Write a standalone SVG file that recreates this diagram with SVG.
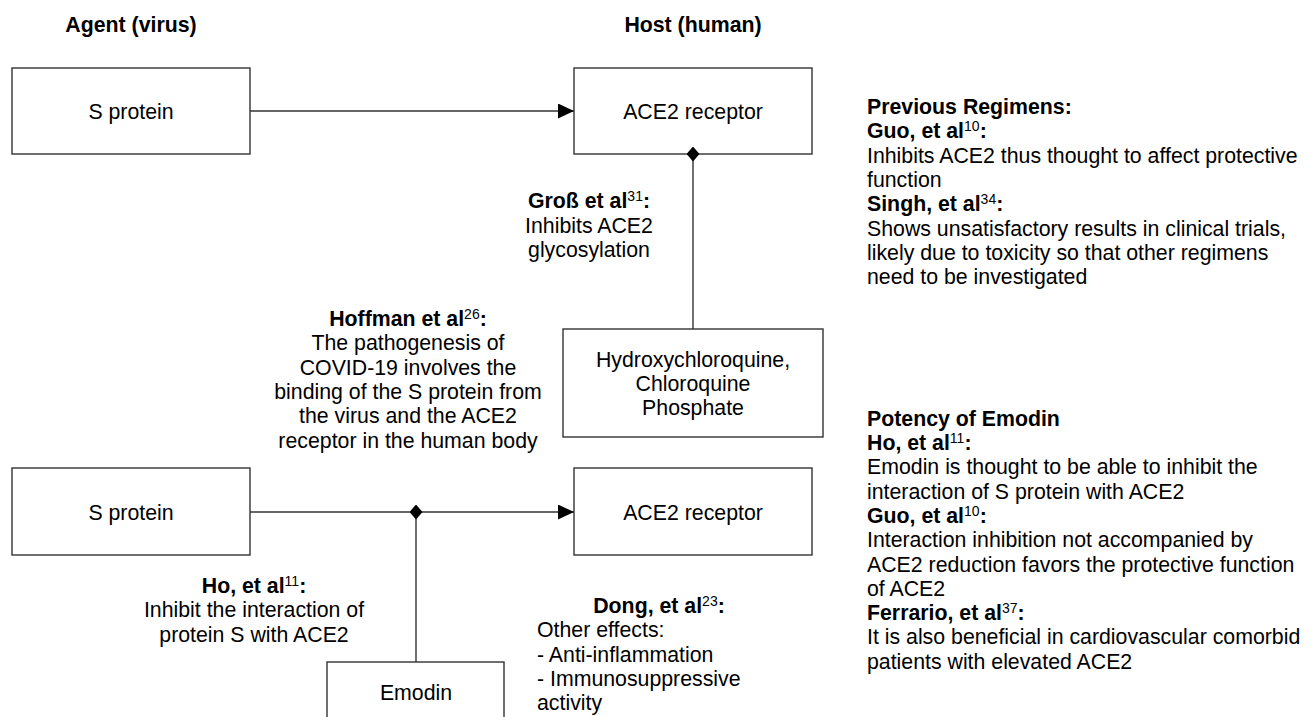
<svg xmlns="http://www.w3.org/2000/svg" width="1312" height="717" viewBox="0 0 1312 717">
<style>
text{font-family:"Liberation Sans",Arial,sans-serif;font-size:21.3px;fill:#000}
.b{font-weight:bold}
.c{text-anchor:middle}
.sup{font-size:14px;font-weight:normal}
.box{fill:#fff;stroke:#333;stroke-width:1.4}
.ln{fill:none;stroke:#333;stroke-width:1.4}
</style>
<defs>
<marker id="arrow" markerUnits="userSpaceOnUse" markerWidth="16" markerHeight="15" refX="16" refY="7.5" orient="auto">
<path d="M0,0 L16,7.5 L0,15 z" fill="#000"/>
</marker>
<marker id="diamond" markerUnits="userSpaceOnUse" markerWidth="15" markerHeight="13" refX="7.5" refY="6.5" orient="auto">
<path d="M0,6.5 L7.5,0 L15,6.5 L7.5,13 z" fill="#000"/>
</marker>
</defs>

<text class="b c" x="131" y="32">Agent (virus)</text>
<text class="b c" x="693" y="32">Host (human)</text>

<g id="s-protein-1">
<rect class="box" x="12" y="68" width="238" height="86"/>
<text class="c" x="131" y="119">S protein</text>
</g>
<g id="ace2-1">
<rect class="box" x="574" y="68" width="238" height="86"/>
<text class="c" x="693" y="119">ACE2 receptor</text>
</g>
<g id="hcq">
<rect class="box" x="563" y="329" width="260" height="108"/>
<text class="c" x="693" y="366.5">Hydroxychloroquine,</text>
<text class="c" x="693" y="390.8">Chloroquine</text>
<text class="c" x="693" y="415.1">Phosphate</text>
</g>
<g id="s-protein-2">
<rect class="box" x="12" y="468" width="238" height="87"/>
<text class="c" x="131" y="520">S protein</text>
</g>
<g id="ace2-2">
<rect class="box" x="574" y="468" width="238" height="87"/>
<text class="c" x="693" y="520">ACE2 receptor</text>
</g>
<g id="emodin">
<rect class="box" x="327" y="662" width="177" height="70"/>
<text class="c" x="416" y="700">Emodin</text>
</g>

<g id="connectors">
<line class="ln" x1="250" y1="111" x2="574" y2="111" marker-end="url(#arrow)"/>
<line class="ln" x1="693" y1="329" x2="693" y2="154" marker-end="url(#diamond)"/>
<line class="ln" x1="250" y1="512" x2="574" y2="512" marker-end="url(#arrow)"/>
<line class="ln" x1="416" y1="662" x2="416" y2="512" marker-end="url(#diamond)"/>
</g>

<g id="label-gross">
<text class="c" x="589" y="208"><tspan class="b">Groß et al</tspan><tspan class="sup" dy="-7">31</tspan><tspan class="b" dy="7">:</tspan></text>
<text class="c" x="589" y="232.5">Inhibits ACE2</text>
<text class="c" x="589" y="256.8">glycosylation</text>
</g>

<g id="label-hoffman">
<text class="c" x="408" y="326"><tspan class="b">Hoffman et al</tspan><tspan class="sup" dy="-7">26</tspan><tspan class="b" dy="7">:</tspan></text>
<text class="c" x="408" y="350.3">The pathogenesis of</text>
<text class="c" x="408" y="374.6">COVID-19 involves the</text>
<text class="c" x="408" y="398.9">binding of the S protein from</text>
<text class="c" x="408" y="423.2">the virus and the ACE2</text>
<text class="c" x="408" y="447.5">receptor in the human body</text>
</g>

<g id="label-ho">
<text class="c" x="254" y="593"><tspan class="b">Ho, et al</tspan><tspan class="sup" dy="-7">11</tspan><tspan class="b" dy="7">:</tspan></text>
<text class="c" x="254" y="617.3">Inhibit the interaction of</text>
<text class="c" x="254" y="641.6">protein S with ACE2</text>
</g>

<g id="label-dong">
<text class="c" x="659" y="613"><tspan class="b">Dong, et al</tspan><tspan class="sup" dy="-7">23</tspan><tspan class="b" dy="7">:</tspan></text>
<text x="537" y="637.3">Other effects:</text>
<text x="537" y="661.6">- Anti-inflammation</text>
<text x="537" y="685.9">- Immunosuppressive</text>
<text x="537" y="710.2">activity</text>
</g>

<g id="notes-previous">
<text class="b" x="867" y="114">Previous Regimens:</text>
<text x="867" y="138.3"><tspan class="b">Guo, et al</tspan><tspan class="sup" dy="-7">10</tspan><tspan class="b" dy="7">:</tspan></text>
<text x="867" y="162.6">Inhibits ACE2 thus thought to affect protective</text>
<text x="867" y="186.9">function</text>
<text x="867" y="211.2"><tspan class="b">Singh, et al</tspan><tspan class="sup" dy="-7">34</tspan><tspan class="b" dy="7">:</tspan></text>
<text x="867" y="235.5">Shows unsatisfactory results in clinical trials,</text>
<text x="867" y="259.8">likely due to toxicity so that other regimens</text>
<text x="867" y="284.1">need to be investigated</text>
</g>

<g id="notes-emodin">
<text class="b" x="867" y="425.7">Potency of Emodin</text>
<text x="867" y="450"><tspan class="b">Ho, et al</tspan><tspan class="sup" dy="-7">11</tspan><tspan class="b" dy="7">:</tspan></text>
<text x="867" y="474.3">Emodin is thought to be able to inhibit the</text>
<text x="867" y="498.6">interaction of S protein with ACE2</text>
<text x="867" y="522.9"><tspan class="b">Guo, et al</tspan><tspan class="sup" dy="-7">10</tspan><tspan class="b" dy="7">:</tspan></text>
<text x="867" y="547.2">Interaction inhibition not accompanied by</text>
<text x="867" y="571.5">ACE2 reduction favors the protective function</text>
<text x="867" y="595.8">of ACE2</text>
<text x="867" y="620.1"><tspan class="b">Ferrario, et al</tspan><tspan class="sup" dy="-7">37</tspan><tspan class="b" dy="7">:</tspan></text>
<text x="867" y="644.4">It is also beneficial in cardiovascular comorbid</text>
<text x="867" y="668.7">patients with elevated ACE2</text>
</g>
</svg>
